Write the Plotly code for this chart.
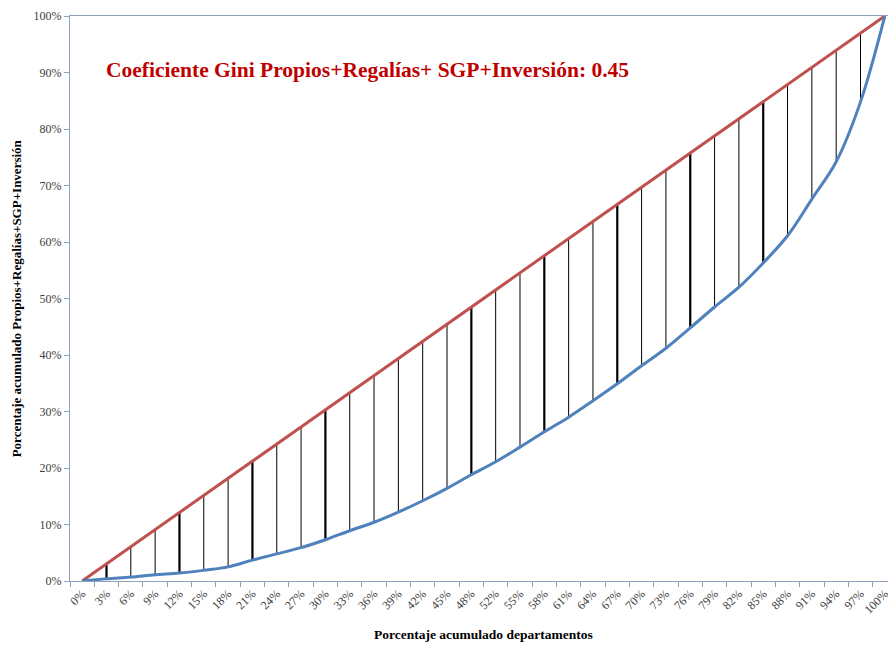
import plotly.graph_objects as go

# porcentaje acumulado de departamentos (33 departamentos)
categorias = ["0%", "3%", "6%", "9%", "12%", "15%", "18%", "21%", "24%", "27%",
              "30%", "33%", "36%", "39%", "42%", "45%", "48%", "52%", "55%", "58%",
              "61%", "64%", "67%", "70%", "73%", "76%", "79%", "82%", "85%", "88%",
              "91%", "94%", "97%", "100%"]

# linea de igualdad
igualdad = [k / 33 for k in range(34)]

# curva de Lorenz
lorenz = [0.000, 0.004, 0.007, 0.011, 0.014, 0.019, 0.025, 0.037, 0.048, 0.059,
          0.073, 0.089, 0.104, 0.122, 0.142, 0.164, 0.188, 0.211, 0.237, 0.264,
          0.290, 0.319, 0.349, 0.381, 0.412, 0.448, 0.485, 0.520, 0.563, 0.611,
          0.676, 0.742, 0.848, 1.000]

titulo = "Coeficiente Gini Propios+Regalías+ SGP+Inversión: 0.45"
titulo_y = "Porcentaje acumulado Propios+Regalías+SGP+Inversión"
titulo_x = "Porcentaje acumulado departamentos"

# lineas verticales que se ven mas gruesas en el original
GRUESAS = {1, 4, 7, 10, 16, 19, 22, 25, 28}

FUENTE = "Liberation Serif, Times New Roman, serif"
EJE = "#8FA3C0"


def segmentos(indices):
    xs, ys = [], []
    for i in indices:
        xs += [categorias[i], categorias[i], None]
        ys += [lorenz[i], igualdad[i], None]
    return xs, ys


fig = go.Figure()

finas = [i for i in range(1, 33) if i not in GRUESAS]
for idx, ancho in ((finas, 1), (sorted(GRUESAS), 2.2)):
    xs, ys = segmentos(idx)
    fig.add_trace(go.Scatter(x=xs, y=ys, mode="lines",
                             line=dict(color="black", width=ancho),
                             hoverinfo="skip", showlegend=False))

fig.add_trace(go.Scatter(x=categorias, y=igualdad, mode="lines",
                         line=dict(color="#C0504D", width=3),
                         cliponaxis=False, showlegend=False))
fig.add_trace(go.Scatter(x=categorias, y=lorenz, mode="lines",
                         line=dict(color="#4F81BD", width=3, shape="spline",
                                   smoothing=1.0),
                         cliponaxis=False, showlegend=False))

fig.update_xaxes(type="category", categoryorder="array", categoryarray=categorias,
                 range=[-0.5, 33.13], tickson="boundaries", automargin=False,
                 ticks="outside", ticklen=5, tickcolor=EJE, tickangle=-45,
                 showline=True, linecolor=EJE, linewidth=1, mirror=True,
                 showgrid=False, zeroline=False,
                 tickfont=dict(family=FUENTE, size=12, color="#404040"))
fig.update_yaxes(range=[0, 1], dtick=0.1, tickformat=".0%", automargin=False,
                 ticks="outside", ticklen=5, tickcolor=EJE,
                 showline=True, linecolor=EJE, linewidth=1,
                 showgrid=False, zeroline=False,
                 tickfont=dict(family=FUENTE, size=12, color="#404040"))

fig.add_annotation(text="<b>" + titulo + "</b>", xref="paper", yref="paper",
                   x=0.041, y=0.904, xanchor="left", yanchor="middle",
                   showarrow=False,
                   font=dict(family=FUENTE, size=21.5, color="#C00000"))
fig.add_annotation(text="<b>" + titulo_y + "</b>", xref="paper", yref="paper",
                   x=-0.065, y=0.50, xanchor="center", yanchor="middle",
                   textangle=-90, showarrow=False,
                   font=dict(family=FUENTE, size=13, color="black"))
fig.add_annotation(text="<b>" + titulo_x + "</b>", xref="paper", yref="paper",
                   x=0.506, y=-0.095, xanchor="center", yanchor="middle",
                   showarrow=False,
                   font=dict(family=FUENTE, size=13.5, color="black"))

fig.update_layout(width=888, height=645,
                  margin=dict(l=70, r=0, t=16, b=64),
                  paper_bgcolor="white", plot_bgcolor="white",
                  showlegend=False)

# la pagina por defecto deja 8px de margen en el body
fig.write_html("out.html", config={"displayModeBar": False},
               post_script="document.body.style.margin='0';")
